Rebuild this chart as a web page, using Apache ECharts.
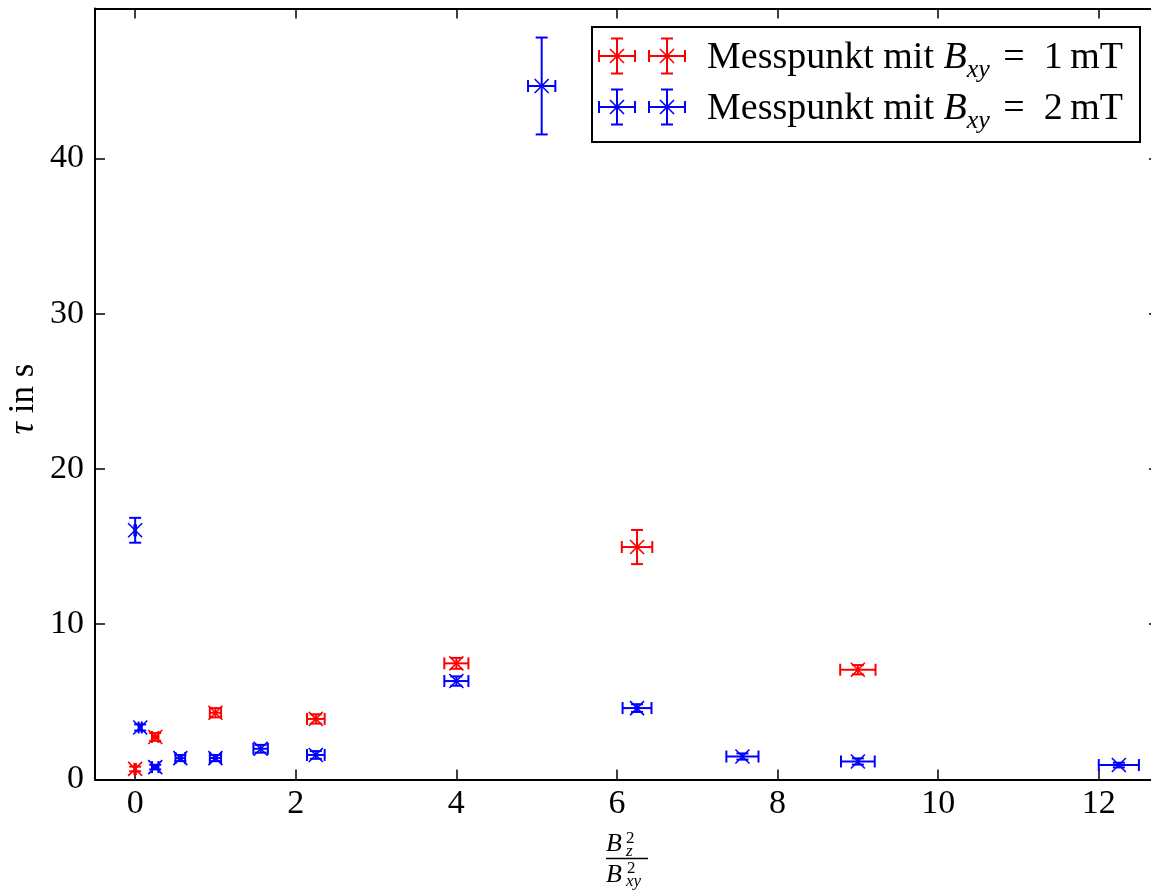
<!DOCTYPE html>
<html>
<head>
<meta charset="utf-8">
<script src="https://cdn.jsdelivr.net/npm/echarts@6/dist/echarts.min.js"></script>
<style>html,body{margin:0;padding:0;background:#fff;overflow:hidden}#c{width:1160px;height:891px}</style>
</head>
<body>
<div id="c"></div>
<script>
// ---- data ----
const xTicks = [0, 2, 4, 6, 8, 10, 12];
const yTicks = [0, 10, 20, 30, 40];

// Messpunkt mit B_xy = 1 mT
const redX    = [0, 0.25, 1, 2.25, 4, 6.25, 9];
const redY    = [0.68, 2.74, 4.30, 3.90, 7.48, 14.97, 7.07];
const redXErr = [0.01, 0.04, 0.07, 0.11, 0.15, 0.19, 0.22];
const redYErr = [0.15, 0.25, 0.3, 0.3, 0.35, 1.1, 0.3];

// Messpunkt mit B_xy = 2 mT
const blueX    = [0, 0.0625, 0.25, 0.5625, 1, 1.5625, 2.25, 4, 5.0625, 6.25, 7.5625, 9, 12.25];
const blueY    = [16.05, 3.35, 0.8, 1.38, 1.38, 1.98, 1.58, 6.34, 44.66, 4.6, 1.48, 1.16, 0.93];
const blueXErr = [0.01, 0.02, 0.04, 0.06, 0.07, 0.09, 0.11, 0.15, 0.17, 0.18, 0.2, 0.21, 0.25];
const blueYErr = [0.8, 0.2, 0.15, 0.2, 0.2, 0.25, 0.25, 0.3, 3.12, 0.25, 0.2, 0.2, 0.15];

const FONT = '"Liberation Serif", "DejaVu Serif", serif';
const RED = '#ff0000', BLUE = '#0000ff';

function build(xs, ys, exs, eys) {
  return xs.map((x, i) => [x, ys[i], exs[i], eys[i]]);
}

function markerLines(cx, cy, l, r, t, b, color, cap, m, z) {
  const ln = (x1, y1, x2, y2, w) => ({type: 'line', z: z || 0, shape: {x1, y1, x2, y2}, style: {stroke: color, lineWidth: w || 2}});
  return [
    ln(l, cy, r, cy),
    ln(cx, t, cx, b),
    ln(l, cy - cap, l, cy + cap),
    ln(r, cy - cap, r, cy + cap),
    ln(cx - cap, t, cx + cap, t),
    ln(cx - cap, b, cx + cap, b),
    ln(cx - m, cy - m, cx + m, cy + m, 1.6),
    ln(cx - m, cy + m, cx + m, cy - m, 1.6)
  ];
}

function makeRender(color) {
  return function (params, api) {
    const x = api.value(0), y = api.value(1), ex = api.value(2), ey = api.value(3);
    const c = api.coord([x, y]);
    const l = api.coord([x - ex, y])[0], r = api.coord([x + ex, y])[0];
    const t = api.coord([x, y + ey])[1], b = api.coord([x, y - ey])[1];
    return {type: 'group', children: markerLines(c[0], c[1], l, r, t, b, color, 6, 7)};
  };
}

function axisCommon(pos, showLabel, ticks, isX) {
  return {
    type: 'value',
    position: pos,
    min: isX ? -0.5 : 0,
    max: isX ? 12.75 : 49.65,
    axisLine: {show: true, onZero: false, lineStyle: {color: '#000', width: 2}},
    axisTick: {show: true, inside: true, length: 10, customValues: ticks, lineStyle: {color: '#000', width: 1.5}},
    axisLabel: {show: showLabel, customValues: ticks, fontSize: 34, fontFamily: FONT, color: '#000', margin: isX ? 8 : 11},
    splitLine: {show: false}
  };
}

const chart = echarts.init(document.getElementById('c'), null, {renderer: 'canvas'});
const legendRows = [
  {cy: 56, color: RED, val: '1'},
  {cy: 107, color: BLUE, val: '2'}
];
const legendEls = [{
  type: 'rect', shape: {x: 592, y: 27, width: 548, height: 115},
  style: {fill: '#fff', stroke: '#000', lineWidth: 2}, z: 100
}];
legendRows.forEach(row => {
  markerLines(617, row.cy, 599, 635, row.cy - 17.5, row.cy + 17.5, row.color, 6, 7, 101)
    .concat(markerLines(667, row.cy, 649, 685, row.cy - 17.5, row.cy + 17.5, row.color, 6, 7, 101))
    .forEach(el => legendEls.push(el));
  legendEls.push({
    type: 'text', z: 101, x: 707, y: row.cy + 2,
    style: {
      text: 'Messpunkt mit {i|B}{s|xy} =  ' + row.val + '\u2009mT',
      fill: '#000', fontSize: 38, fontFamily: FONT, verticalAlign: 'middle', align: 'left',
      rich: {
        i: {fontSize: 38, fontFamily: FONT, fontStyle: 'italic'},
        s: {fontSize: 26, fontFamily: FONT, fontStyle: 'italic', verticalAlign: 'bottom', padding: [25, 4, 0, 0]}
      }
    }
  });
});

const fracEls = [
  {type: 'text', x: 606, y: 844, style: {text: 'B', fontSize: 26, fontStyle: 'italic', fontFamily: FONT, fill: '#000', align: 'left', verticalAlign: 'middle'}},
  {type: 'text', x: 626, y: 839, style: {text: '2', fontSize: 17, fontFamily: FONT, fill: '#000', align: 'left', verticalAlign: 'middle'}},
  {type: 'text', x: 626, y: 852, style: {text: 'z', fontSize: 17, fontStyle: 'italic', fontFamily: FONT, fill: '#000', align: 'left', verticalAlign: 'middle'}},
  {type: 'line', shape: {x1: 606, y1: 858.5, x2: 648, y2: 858.5}, style: {stroke: '#000', lineWidth: 1.6}},
  {type: 'text', x: 606, y: 875, style: {text: 'B', fontSize: 26, fontStyle: 'italic', fontFamily: FONT, fill: '#000', align: 'left', verticalAlign: 'middle'}},
  {type: 'text', x: 627, y: 869, style: {text: '2', fontSize: 17, fontFamily: FONT, fill: '#000', align: 'left', verticalAlign: 'middle'}},
  {type: 'text', x: 626, y: 882, style: {text: 'xy', fontSize: 17, fontStyle: 'italic', fontFamily: FONT, fill: '#000', align: 'left', verticalAlign: 'middle'}}
];

const yName = {
  type: 'text', x: 24, y: 399, rotation: Math.PI / 2,
  style: {
    text: '{i|τ} in s', fill: '#000', fontSize: 35, fontFamily: FONT, align: 'center', verticalAlign: 'middle',
    rich: {i: {fontSize: 35, fontFamily: FONT, fontStyle: 'italic'}}
  }
};

chart.setOption({
  animation: false,
  backgroundColor: '#fff',
  grid: {left: 95, right: 1, top: 8.5, bottom: 111.5, containLabel: false},
  xAxis: [axisCommon('bottom', true, xTicks, true), axisCommon('top', false, xTicks, true)],
  yAxis: [axisCommon('left', true, yTicks, false), axisCommon('right', false, yTicks, false)],
  series: [
    {type: 'custom', name: 'Messpunkt mit B_xy = 1 mT', xAxisIndex: 0, yAxisIndex: 0, renderItem: makeRender(RED), data: build(redX, redY, redXErr, redYErr), encode: {x: 0, y: 1}},
    {type: 'custom', name: 'Messpunkt mit B_xy = 2 mT', xAxisIndex: 0, yAxisIndex: 0, renderItem: makeRender(BLUE), data: build(blueX, blueY, blueXErr, blueYErr), encode: {x: 0, y: 1}}
  ],
  graphic: legendEls.concat(fracEls).concat([yName])
});
</script>
</body>
</html>
